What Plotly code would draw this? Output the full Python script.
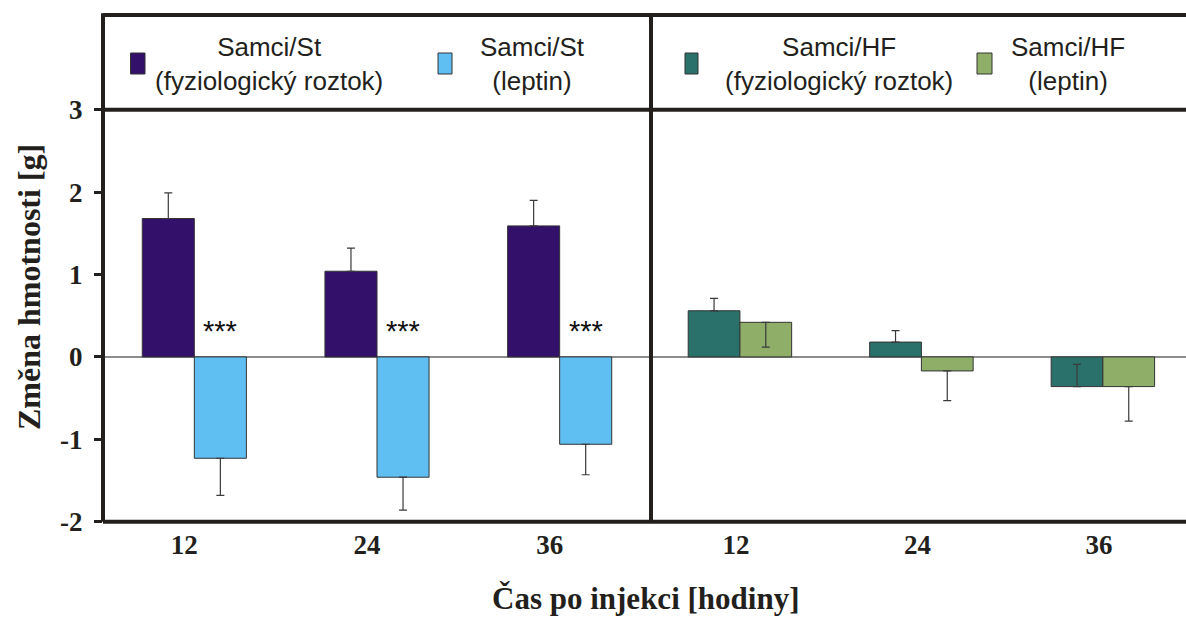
import plotly.graph_objects as go

# Weight change after injection, males on standard (St) and high-fat (HF) diet
times = ["12", "24", "36"]

st_fyz = [1.68, 1.04, 1.59]
st_fyz_err = [0.31, 0.28, 0.31]
st_lep = [-1.23, -1.46, -1.06]
st_lep_err = [0.45, 0.40, 0.37]

hf_fyz = [0.56, 0.18, -0.36]
hf_fyz_err = [0.15, 0.14, 0.27]
hf_lep = [0.42, -0.17, -0.36]
hf_lep_err = [0.30, 0.36, 0.42]

names = [
    "Samci/St<br>(fyziologický roztok)",
    "Samci/St<br>(leptin)",
    "Samci/HF<br>(fyziologický roztok)",
    "Samci/HF<br>(leptin)",
]
colors = ["#33106a", "#60bff2", "#2a716b", "#8faf69"]
signif = ["***", "***", "***"]
y_ticks = [-2, -1, 0, 1, 2, 3]
y_ticktext = ["-2", "-1", "0", "1", "2", "3"]

W, H = 1186, 619
INK = "#231f1c"
SERIF = "Liberation Serif"
SANS = "Liberation Sans"
BARGAP = 0.43


def px_x(p):
    return p / W


def px_y(p):
    return (H - p) / H


xpos = list(range(len(times)))

fig = go.Figure()

series = [
    (st_fyz, st_fyz_err, "plus", "x"),
    (st_lep, st_lep_err, "minus", "x"),
    (hf_fyz, hf_fyz_err, "plus", "x2"),
    (hf_lep, hf_lep_err, "minus", "x2"),
]
for (vals, errs, side, xa), name, col in zip(series, names, colors):
    zeros = [0] * len(errs)
    fig.add_trace(go.Bar(
        x=xpos, y=vals, name=name, xaxis=xa, yaxis="y",
        marker=dict(color=col, line=dict(color="#333333", width=1)),
        error_y=dict(
            type="data", symmetric=False,
            array=errs if side == "plus" else zeros,
            arrayminus=errs if side == "minus" else zeros,
            color="#3a3a3a", thickness=1.2, width=4,
        ),
        showlegend=False,
    ))

# significance marks above the leptin bars of the St group
half_bar = (1 - BARGAP) / 4
for i, s in enumerate(signif):
    fig.add_annotation(
        x=xpos[i] + half_bar, y=0.31, xref="x", yref="y", text=s,
        showarrow=False, font=dict(family=SANS, size=29, color="#111111"),
        yanchor="middle",
    )

left, mid, right = px_x(103), px_x(651), 1.0
ybot, ytop = px_y(521.7), px_y(15)

axis_font = dict(family=SERIF, size=27, color=INK, weight="bold")

fig.update_layout(
    width=W, height=H,
    margin=dict(l=0, r=0, t=0, b=0, autoexpand=False),
    paper_bgcolor="white", plot_bgcolor="white",
    barmode="group", bargap=BARGAP, bargroupgap=0,
    xaxis=dict(
        domain=[left, mid], range=[-0.5, 2.5], anchor="y", automargin=False,
        tickvals=xpos, ticktext=times, tickfont=axis_font,
        showgrid=False, zeroline=False, showline=False, ticks="",
        ticklabelshift=-10, ticklabelstandoff=4,
    ),
    xaxis2=dict(
        domain=[mid, right], range=[-0.49, 2.458], anchor="y", automargin=False,
        tickvals=xpos, ticktext=times, tickfont=axis_font,
        showgrid=False, zeroline=False, showline=False, ticks="",
        ticklabelshift=-4, ticklabelstandoff=4,
    ),
    yaxis=dict(
        domain=[ybot, ytop], range=[-2, 4.15], anchor="x", automargin=False,
        tickvals=y_ticks, ticktext=y_ticktext, tickfont=axis_font,
        ticks="outside", ticklen=8, tickwidth=3, tickcolor=INK,
        showgrid=False, showline=False,
        zeroline=True, zerolinecolor="#8c8c8c", zerolinewidth=2,
        ticklabelstandoff=6,
    ),
)

# frame: outer box, legend separator at y = 3, panel divider
frame = dict(color=INK, width=4)
fig.add_shape(type="line", xref="paper", yref="paper", x0=left, x1=1.0, y0=ytop, y1=ytop, line=frame)
fig.add_shape(type="line", xref="paper", yref="y", x0=left, x1=1.0, y0=3, y1=3, line=frame)
fig.add_shape(type="line", xref="paper", yref="paper", x0=left, x1=1.0, y0=ybot, y1=ybot, line=frame)
fig.add_shape(type="line", xref="paper", yref="paper", x0=left, x1=left, y0=ybot, y1=ytop + 0.003, line=frame)
fig.add_shape(type="line", xref="paper", yref="paper", x0=mid, x1=mid, y0=ybot, y1=ytop + 0.003, line=frame)

# legend inside the top band of each panel
legend_marks = [(130.5, 145), (438, 452), (685, 698), (977, 992)]
legend_text_x = [269, 532, 839, 1068]
for (m0, m1), tx, name, col in zip(legend_marks, legend_text_x, names, colors):
    fig.add_shape(type="rect", xref="paper", yref="paper",
                  x0=px_x(m0), x1=px_x(m1), y0=px_y(74), y1=px_y(53),
                  fillcolor=col, line=dict(color="#333333", width=1))
    fig.add_annotation(x=px_x(tx), y=px_y(64), xref="paper", yref="paper",
                       text=name, showarrow=False, align="center",
                       xanchor="center", yanchor="middle",
                       font=dict(family=SANS, size=26, color=INK))

fig.add_annotation(x=px_x(29), y=px_y(287), xref="paper", yref="paper",
                   text="Změna hmotnosti [g]", textangle=-90, showarrow=False,
                   xanchor="center", yanchor="middle",
                   font=dict(family=SERIF, size=32, color=INK, weight="bold"))
fig.add_annotation(x=px_x(645), y=px_y(598), xref="paper", yref="paper",
                   text="Čas po injekci [hodiny]", showarrow=False,
                   xanchor="center", yanchor="middle",
                   font=dict(family=SERIF, size=31, color=INK, weight="bold"))

fig.write_html("out.html")
